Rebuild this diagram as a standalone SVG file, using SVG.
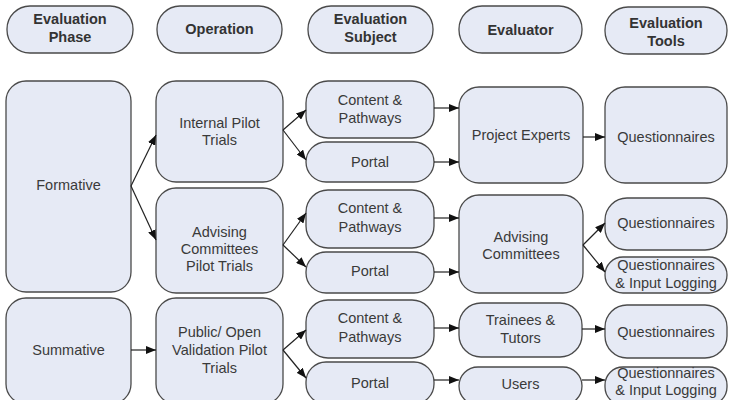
<svg xmlns="http://www.w3.org/2000/svg" width="729" height="400" viewBox="0 0 729 400">
<style>
.n{fill:#e6eaf5;stroke:#4a4a4a;stroke-width:1.3}
.t{font-family:"Liberation Sans",Arial,sans-serif;font-size:14.5px;fill:#3a3a3a;text-anchor:middle}
.h{font-family:"Liberation Sans",Arial,sans-serif;font-size:14.5px;font-weight:bold;fill:#333;text-anchor:middle}
.c{stroke:#222;stroke-width:1.2;fill:none;marker-end:url(#a)}
</style>
<defs>
<marker id="a" viewBox="0 0 10 8" refX="10" refY="4" markerWidth="10" markerHeight="8" markerUnits="userSpaceOnUse" orient="auto">
<path d="M0,0 L10,4 L0,8 Z" fill="#111"/>
</marker>
</defs>
<rect width="729" height="400" fill="#fff"/>
<g id="h1"><rect class="n" x="7" y="6" width="126" height="47" rx="23"/><text class="h" x="70" y="24">Evaluation</text><text class="h" x="70" y="42">Phase</text></g>
<g id="h2"><rect class="n" x="157" y="6" width="125" height="47" rx="23"/><text class="h" x="219.5" y="34">Operation</text></g>
<g id="h3"><rect class="n" x="308" y="6" width="125" height="47" rx="23"/><text class="h" x="370.5" y="24">Evaluation</text><text class="h" x="370.5" y="42">Subject</text></g>
<g id="h4"><rect class="n" x="459" y="6" width="123" height="47" rx="23"/><text class="h" x="520.5" y="35">Evaluator</text></g>
<g id="h5"><rect class="n" x="605" y="7" width="122" height="47" rx="23"/><text class="h" x="666" y="28">Evaluation</text><text class="h" x="666" y="46">Tools</text></g>

<g id="formative"><rect class="n" x="6" y="81" width="125" height="211" rx="20"/><text class="t" x="68.5" y="190">Formative</text></g>
<g id="summative"><rect class="n" x="6" y="298" width="125" height="106" rx="20"/><text class="t" x="68.5" y="355">Summative</text></g>

<g id="internal"><rect class="n" x="156" y="81" width="127" height="101" rx="20"/><text class="t" x="219.5" y="128">Internal Pilot</text><text class="t" x="219.5" y="145">Trials</text></g>
<g id="advpilot"><rect class="n" x="156" y="188" width="127" height="105" rx="20"/><text class="t" x="219.5" y="237">Advising</text><text class="t" x="219.5" y="254">Committees</text><text class="t" x="219.5" y="271">Pilot Trials</text></g>
<g id="public"><rect class="n" x="156" y="298" width="127" height="106" rx="20"/><text class="t" x="219.5" y="337">Public/ Open</text><text class="t" x="219.5" y="355">Validation Pilot</text><text class="t" x="219.5" y="373">Trials</text></g>

<g id="cp1"><rect class="n" x="306" y="81" width="128" height="57" rx="22"/><text class="t" x="370" y="105">Content &amp;</text><text class="t" x="370" y="123">Pathways</text></g>
<g id="portal1"><rect class="n" x="306" y="142" width="128" height="40" rx="20"/><text class="t" x="370" y="167">Portal</text></g>
<g id="cp2"><rect class="n" x="306" y="190" width="128" height="58" rx="22"/><text class="t" x="370" y="213">Content &amp;</text><text class="t" x="370" y="232">Pathways</text></g>
<g id="portal2"><rect class="n" x="306" y="252" width="128" height="41" rx="20"/><text class="t" x="370" y="276">Portal</text></g>
<g id="cp3"><rect class="n" x="306" y="300" width="128" height="58" rx="22"/><text class="t" x="370" y="323">Content &amp;</text><text class="t" x="370" y="342">Pathways</text></g>
<g id="portal3"><rect class="n" x="306" y="362" width="128" height="42" rx="20"/><text class="t" x="370" y="388">Portal</text></g>

<g id="experts"><rect class="n" x="459" y="87" width="124" height="96" rx="20"/><text class="t" x="521" y="140">Project Experts</text></g>
<g id="advcomm"><rect class="n" x="459" y="195" width="124" height="98" rx="20"/><text class="t" x="521" y="242">Advising</text><text class="t" x="521" y="259">Committees</text></g>
<g id="trainees"><rect class="n" x="459" y="303" width="123" height="54" rx="22"/><text class="t" x="520.5" y="325">Trainees &amp;</text><text class="t" x="520.5" y="343">Tutors</text></g>
<g id="users"><rect class="n" x="459" y="367" width="123" height="38" rx="19"/><text class="t" x="520.5" y="389">Users</text></g>

<g id="q1"><rect class="n" x="605" y="87" width="122" height="96" rx="20"/><text class="t" x="666" y="142">Questionnaires</text></g>
<g id="q2"><rect class="n" x="605" y="198" width="122" height="52" rx="22"/><text class="t" x="666" y="228">Questionnaires</text></g>
<g id="qil2"><rect class="n" x="605" y="257" width="122" height="36" rx="18"/><text class="t" x="666" y="270">Questionnaires</text><text class="t" x="666" y="288">&amp; Input Logging</text></g>
<g id="q3"><rect class="n" x="605" y="305" width="122" height="53" rx="22"/><text class="t" x="666" y="337">Questionnaires</text></g>
<g id="qil3"><rect class="n" x="605" y="367" width="122" height="38" rx="18"/><text class="t" x="666" y="378">Questionnaires</text><text class="t" x="666" y="395">&amp; Input Logging</text></g>

<g id="connectors">
<line class="c" x1="131" y1="186" x2="156" y2="135"/>
<line class="c" x1="131" y1="186" x2="156" y2="240"/>
<line class="c" x1="283" y1="130" x2="306" y2="110"/>
<line class="c" x1="283" y1="130" x2="306" y2="160"/>
<line class="c" x1="283" y1="245" x2="306" y2="213"/>
<line class="c" x1="283" y1="245" x2="306" y2="267"/>
<line class="c" x1="131" y1="350" x2="156" y2="350"/>
<line class="c" x1="283" y1="350" x2="306" y2="330"/>
<line class="c" x1="283" y1="350" x2="306" y2="378"/>
<line class="c" x1="434" y1="108" x2="459" y2="108"/>
<line class="c" x1="434" y1="162" x2="459" y2="162"/>
<line class="c" x1="434" y1="218" x2="459" y2="218"/>
<line class="c" x1="434" y1="272" x2="459" y2="272"/>
<line class="c" x1="434" y1="328" x2="459" y2="328"/>
<line class="c" x1="434" y1="380" x2="459" y2="380"/>
<line class="c" x1="583" y1="137" x2="605" y2="137"/>
<line class="c" x1="583" y1="245" x2="605" y2="223"/>
<line class="c" x1="583" y1="245" x2="605" y2="272"/>
<line class="c" x1="582" y1="329" x2="605" y2="329"/>
<line class="c" x1="582" y1="380" x2="605" y2="380"/>
</g>
</svg>
